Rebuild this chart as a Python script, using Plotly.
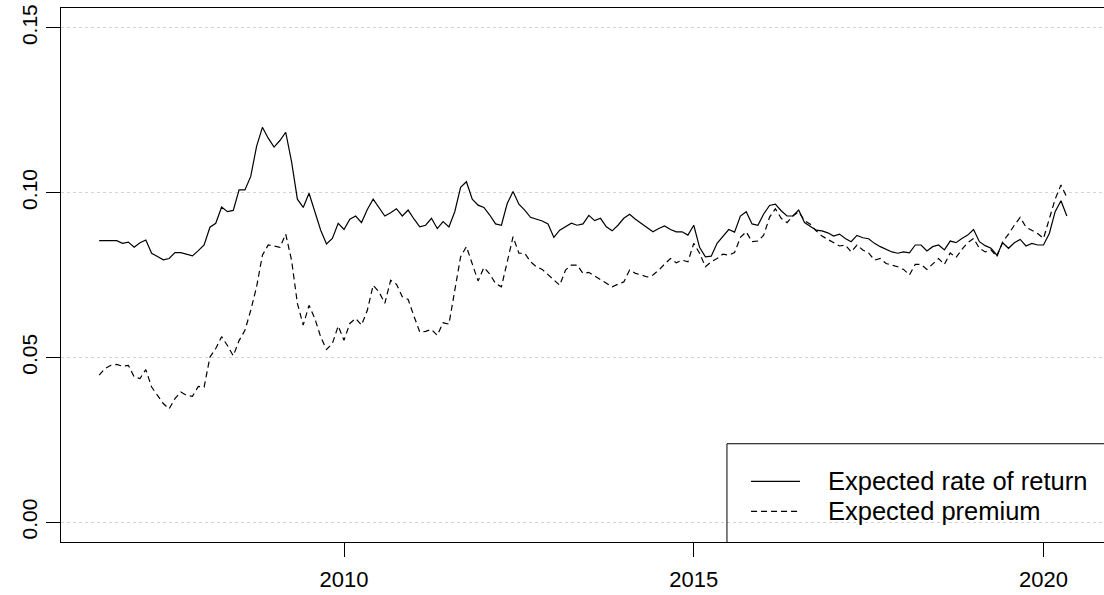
import plotly.graph_objects as go

# ---- data (monthly, starting July 2006) ----
start_year = 2006
start_month = 7

expected_return = [
    .0854, .0854, .0854, .0854, .0846, .0850, .0834, .0848, .0856, .0816, .0806, .0796, .0800, .0818,
    .0818, .0814, .0808, .0824, .0841, .0895, .0907, .0956, .0942, .0946, .1008, .1008, .1049, .1140,
    .1198, .1165, .1138, .1158, .1183, .1094, .0980, .0955, .0998, .0942, .0886, .0844, .0861, .0907,
    .0888, .0919, .0929, .0909, .0949, .0980, .0955, .0929, .0939, .0951, .0929, .0947, .0920,
    .0896, .0901, .0922, .0891, .0912, .0896, .0942, .1016, .1033, .0980, .0962, .0955, .0932, .0905,
    .0901, .0967, .1003, .0965, .0947, .0925, .0919, .0914, .0905, .0864, .0886, .0896, .0907, .0901,
    .0905, .0931, .0915, .0922, .0896, .0884, .0901, .0922, .0934, .0919, .0907, .0893, .0881, .0891,
    .0899, .0888, .0881, .0881, .0871, .0901, .0834, .0805, .0807, .0846, .0868, .0888, .0880,
    .0929, .0942, .0905, .0901, .0935, .0961, .0965, .0945, .0929, .0929, .0947, .0909, .0898, .0886,
    .0884, .0878, .0868, .0874, .0861, .0851, .0870, .0863, .0860, .0846, .0836, .0828, .0820, .0816,
    .0820, .0817, .0841, .0841, .0823, .0836, .0841, .0826, .0853, .0848, .0861, .0871, .0888, .0851,
    .0839, .0831, .0810, .0848, .0831, .0848, .0858, .0838, .0846, .0841, .0841, .0876, .0942, .0975, .0929,
]

expected_premium = [
    .0446, .0466, .0476, .0479, .0473, .0476, .0441, .0436, .0463, .0410, .0385, .0360, .0344, .0375,
    .0395, .0385, .0382, .0412, .0410, .0501, .0527, .0563, .0536, .0505, .0551, .0582, .0643, .0714,
    .0810, .0841, .0838, .0834, .0874, .0795, .0664, .0598, .0658, .0618, .0562, .0524, .0542, .0595,
    .0552, .0603, .0618, .0598, .0643, .0719, .0699, .0664, .0734, .0722, .0684, .0676, .0625,
    .0577, .0579, .0585, .0567, .0605, .0601, .0704, .0805, .0836, .0783, .0732, .0773, .0753, .0724,
    .0714, .0790, .0866, .0816, .0816, .0790, .0775, .0767, .0750, .0734, .0719, .0765, .0780, .0780,
    .0755, .0758, .0747, .0734, .0724, .0714, .0722, .0729, .0765, .0755, .0750, .0744, .0750, .0765,
    .0783, .0800, .0787, .0795, .0790, .0846, .0816, .0775, .0790, .0800, .0813, .0810, .0818,
    .0864, .0881, .0851, .0853, .0871, .0925, .0951, .0922, .0909, .0929, .0942, .0915, .0904, .0884,
    .0868, .0858, .0848, .0838, .0841, .0820, .0841, .0826, .0817, .0795, .0800, .0785, .0780, .0775,
    .0767, .0750, .0782, .0782, .0767, .0785, .0800, .0782, .0817, .0803, .0828, .0848, .0861, .0831,
    .0820, .0826, .0805, .0851, .0874, .0901, .0925, .0895, .0886, .0876, .0861, .0922, .0980, .1023, .0986,
]

series_names = ["Expected rate of return", "Expected premium"]
x_ticks = [2010, 2015, 2020]
y_ticks = [0.00, 0.05, 0.10, 0.15]
y_tick_labels = ["0.00", "0.05", "0.10", "0.15"]

# decimal-year time index (like an R ts object)
t = [start_year + (start_month - 1 + i) / 12 for i in range(len(expected_return))]

FONT = "Liberation Sans, Arial, sans-serif"

fig = go.Figure()
fig.add_trace(go.Scatter(x=t, y=expected_return, mode="lines", name=series_names[0],
                         line=dict(color="black", width=1.2), showlegend=False))
fig.add_trace(go.Scatter(x=t, y=expected_premium, mode="lines", name=series_names[1],
                         line=dict(color="black", width=1.2, dash="6px,4px"), showlegend=False))

# legend drawn R-style (bottomright, boxed)
lx0, ly_top = 0.6385, 0.184
fig.add_shape(type="line", xref="paper", yref="paper", x0=lx0, x1=lx0, y0=0, y1=ly_top,
              line=dict(color="black", width=1))
fig.add_shape(type="line", xref="paper", yref="paper", x0=lx0, x1=1.0, y0=ly_top, y1=ly_top,
              line=dict(color="black", width=1))
rows = [0.1134, 0.0573]
dashes = ["solid", "6px,4px"]
for name, yy, d in zip(series_names, rows, dashes):
    fig.add_shape(type="line", xref="paper", yref="paper", x0=0.6616, x1=0.7085, y0=yy, y1=yy,
                  line=dict(color="black", width=1.2, dash=d))
    fig.add_annotation(xref="paper", yref="paper", x=0.7335, y=yy, text=name, showarrow=False,
                       xanchor="left", yanchor="middle",
                       font=dict(family=FONT, size=25.5, color="black"))

fig.update_layout(
    width=1104, height=595,
    margin=dict(l=61, r=0, t=8, b=53),
    paper_bgcolor="white", plot_bgcolor="white",
    font=dict(family=FONT, color="black"),
    showlegend=False,
)
fig.update_xaxes(
    range=[2005.954, 2020.865], tickvals=x_ticks, ticktext=[str(v) for v in x_ticks],
    showgrid=False, zeroline=False,
    showline=True, mirror=True, linecolor="black", linewidth=1,
    ticks="outside", ticklen=14, tickcolor="black", tickwidth=1,
    tickfont=dict(family=FONT, size=22, color="black"), ticklabelstandoff=4,
)
fig.update_yaxes(
    range=[-0.006, 0.156], tickvals=y_ticks, ticktext=y_tick_labels,
    showgrid=True, gridcolor="#d3d3d3", griddash="dot", gridwidth=1, zeroline=False,
    showline=True, mirror=False, linecolor="black", linewidth=1,
    ticks="outside", ticklen=14, tickcolor="black", tickwidth=1, tickangle=-90,
    tickfont=dict(family=FONT, size=21, color="black"), ticklabelstandoff=1,
)

fig.write_html("out.html", config={"displayModeBar": False},
               post_script="document.body.style.margin='0';document.body.style.overflow='hidden';")
